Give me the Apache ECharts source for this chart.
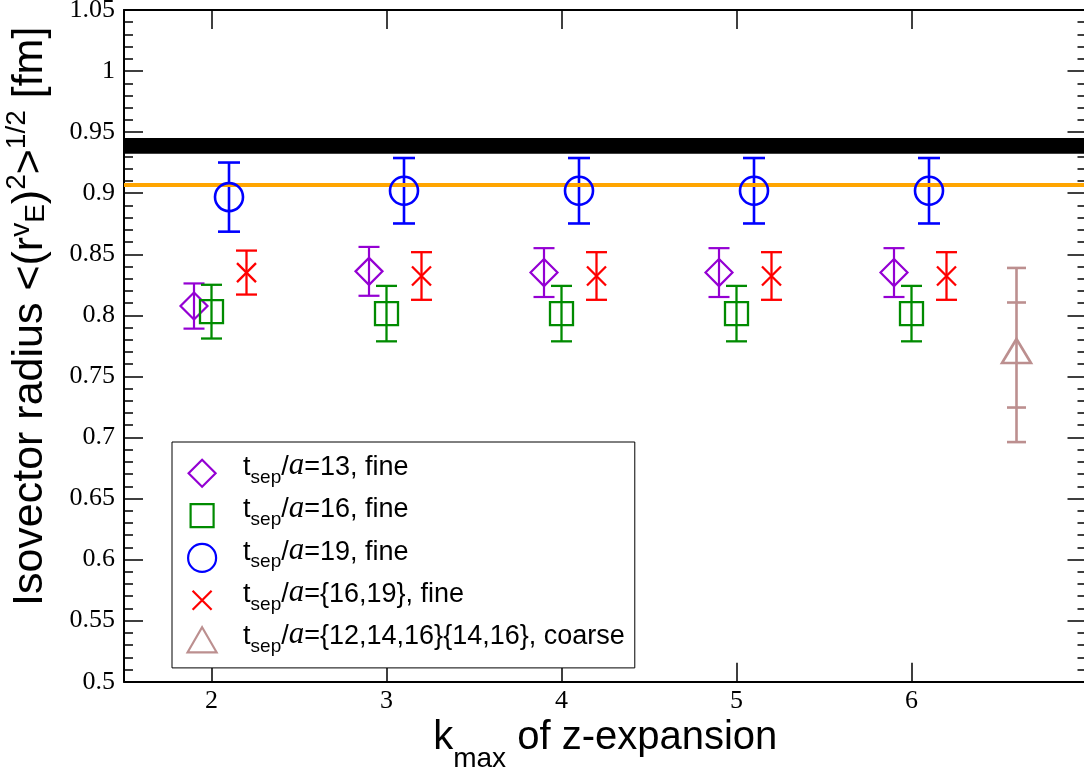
<!DOCTYPE html>
<html><head><meta charset="utf-8">
<script src="https://cdn.jsdelivr.net/npm/echarts@6/dist/echarts.min.js"></script>
<style>html,body{margin:0;padding:0;background:#fff}#c{width:1084px;height:775px}</style>
</head><body><div id="c"></div>
<script>
// ---- data ----
const xTicks = [2, 3, 4, 5, 6];
const xMin = 1.5, xMax = 7;
const yMin = 0.5, yMax = 1.05, yStep = 0.05;

const x13 = [1.9, 2.9, 3.9, 4.9, 5.9];
const y13 = [0.8076, 0.836, 0.835, 0.835, 0.835];
const e13 = [0.0185, 0.020, 0.020, 0.020, 0.020];

const x16 = [2.0, 3.0, 4.0, 5.0, 6.0];
const y16 = [0.803, 0.8014, 0.8014, 0.8014, 0.8014];
const e16 = [0.022, 0.0227, 0.0227, 0.0227, 0.0227];

const x19 = [2.1, 3.1, 4.1, 5.1, 6.1];
const y19 = [0.8968, 0.902, 0.902, 0.902, 0.902];
const e19 = [0.0283, 0.0268, 0.0268, 0.0268, 0.0268];

const x1619 = [2.2, 3.2, 4.2, 5.2, 6.2];
const y1619 = [0.835, 0.8322, 0.8322, 0.8322, 0.8322];
const e1619 = [0.018, 0.0195, 0.0195, 0.0195, 0.0195];

const xCoarse = [6.6];
const yCoarse = [0.7675];
const eCoarseTot = [0.0713];
const eCoarseStat = [0.043];

const bandLow = 0.9323, bandHigh = 0.9451;   // black band
const orangeLine = 0.9067;                   // orange line

const seriesNames = ['t13', 't16', 't19', 't1619', 'coarse'];
const legendTexts = {
  t13: 't{s|sep}/{i|a}=13, fine',
  t16: 't{s|sep}/{i|a}=16, fine',
  t19: 't{s|sep}/{i|a}=19, fine',
  t1619: 't{s|sep}/{i|a}={16,19}, fine',
  coarse: 't{s|sep}/{i|a}={12,14,16}{14,16}, coarse'
};

// ---- styles ----
const C = {
  purple: '#9400d3', green: '#008b00', blue: '#0000ff', red: '#ff0000', brown: '#bc8f8f'
};

function pairs(xs, ys) { return xs.map((x, i) => [x, ys[i]]); }
function triples(xs, ys, es) { return xs.map((x, i) => [x, ys[i], es[i]]); }

function errRender(color, cap, lw) {
  return function (params, api) {
    const x = api.value(0), y = api.value(1), e = api.value(2);
    const t = api.coord([x, y + e]), b = api.coord([x, y - e]);
    const st = { stroke: color, lineWidth: lw, fill: null };
    const ch = [
      { type: 'line', shape: { x1: t[0], y1: t[1], x2: b[0], y2: b[1] }, style: st },
      { type: 'line', shape: { x1: t[0] - cap, y1: t[1], x2: t[0] + cap, y2: t[1] }, style: st },
      { type: 'line', shape: { x1: b[0] - cap, y1: b[1], x2: b[0] + cap, y2: b[1] }, style: st }
    ];
    const e2 = api.value(3);
    if (typeof e2 === 'number' && e2 > 0) {
      const t2 = api.coord([x, y + e2]), b2 = api.coord([x, y - e2]);
      ch.push({ type: 'line', shape: { x1: t2[0] - cap, y1: t2[1], x2: t2[0] + cap, y2: t2[1] }, style: st });
      ch.push({ type: 'line', shape: { x1: b2[0] - cap, y1: b2[1], x2: b2[0] + cap, y2: b2[1] }, style: st });
    }
    return { type: 'group', children: ch };
  };
}

function scatter(name, data, symbol, size, color, bw, extra) {
  return Object.assign({
    name, type: 'scatter', data, symbol, symbolSize: size, z: 5,
    itemStyle: { color: 'rgba(0,0,0,0)', borderColor: color, borderWidth: bw, opacity: 1 },
    emphasis: { disabled: true }, silent: true
  }, extra || {});
}
function errSeries(name, data, color, cap, lw) {
  return {
    name, type: 'custom', data, renderItem: errRender(color, cap, lw), z: 4, silent: true
  };
}

// legend icons (bbox 65x40, shape centred at x=29, shifted down)
const icons = {
  t13: 'path://M0 0M65 40M29 12.2L42.5 25.7L29 39.2L15.5 25.7Z',
  t16: 'path://M0 0M65 40M17.5 14.2L40.5 14.2L40.5 37.2L17.5 37.2Z',
  t19: 'path://M0 0M65 40M15 25.7A14 14 0 1 0 43 25.7A14 14 0 1 0 15 25.7Z',
  t1619: 'path://M0 0M65 40M19.5 16.2L38.5 35.2M38.5 16.2L19.5 35.2',
  coarse: 'path://M0 0M65 40M29 10.5L43.5 35.5L14.5 35.5Z'
};
const iconColors = { t13: C.purple, t16: C.green, t19: C.blue, t1619: C.red, coarse: C.brown };

const sansFont = '"Liberation Sans", Arial, Helvetica, sans-serif';
const serifFont = '"Liberation Serif", "Times New Roman", serif';

const axisCommon = {
  type: 'value',
  axisLine: { show: true, onZero: false, lineStyle: { color: '#000', width: 2 } },
  splitLine: { show: false },
  axisTick: { show: true, inside: true, length: 19, lineStyle: { color: '#000', width: 1.5 } }
};

const option = {
  animation: false,
  backgroundColor: '#fff',
  grid: { left: 124, top: 10, width: 962.5, height: 671.7, outerBoundsMode: 'none', containLabel: false },
  xAxis: [
    Object.assign({}, axisCommon, {
      position: 'bottom', min: xMin, max: xMax, interval: 0.5,
      axisTick: { show: true, inside: true, length: 19, customValues: xTicks, lineStyle: { color: '#000', width: 1.5 } },
      axisLabel: { show: true, customValues: xTicks, color: '#000', fontFamily: serifFont, fontSize: 26, margin: 6 },
      name: 'k{s|max} of z-expansion',
      nameLocation: 'middle', nameGap: 20, nameMoveOverlap: false,
      nameTextStyle: {
        color: '#000', fontFamily: sansFont, fontSize: 40,
        rich: { s: { fontFamily: sansFont, fontSize: 28, color: '#000', padding: [44, 0, 0, 0] } }
      }
    }),
    Object.assign({}, axisCommon, {
      position: 'top', min: xMin, max: xMax, interval: 0.5,
      axisTick: { show: true, inside: true, length: 19, customValues: xTicks, lineStyle: { color: '#000', width: 1.5 } },
      axisLabel: { show: false }
    })
  ],
  yAxis: [
    Object.assign({}, axisCommon, {
      position: 'left', min: yMin, max: yMax, interval: yStep,
      minorTick: { show: true, splitNumber: 5, length: 9, lineStyle: { color: '#000', width: 1.5 } },
      axisLabel: {
        show: true, color: '#000', fontFamily: serifFont, fontSize: 26, margin: 9,
        padding: [6, 0, 0, 0], showMinLabel: true, showMaxLabel: true,
        formatter: v => String(parseFloat(v.toFixed(2)))
      },
      name: 'Isovector radius <(r{v|v}{e|E}){p|2}>{p|1/2} [fm]',
      nameLocation: 'middle', nameRotate: 90, nameGap: 66, nameMoveOverlap: false,
      nameTextStyle: {
        color: '#000', fontFamily: sansFont, fontSize: 43, padding: [0, 0, 0, 59],
        rich: {
          v: { fontFamily: sansFont, fontSize: 28, color: '#000', padding: [0, 0, 18, 0] },
          e: { fontFamily: sansFont, fontSize: 28, color: '#000', padding: [12, 0, 0, 0] },
          p: { fontFamily: sansFont, fontSize: 28, color: '#000', padding: [0, 0, 27, 0] }
        }
      }
    }),
    Object.assign({}, axisCommon, {
      position: 'right', min: yMin, max: yMax, interval: yStep,
      minorTick: { show: true, splitNumber: 5, length: 9, lineStyle: { color: '#000', width: 1.5 } },
      axisLabel: { show: false }
    })
  ],
  legend: {
    show: true, orient: 'vertical', left: 172, top: 442, selectedMode: false,
    backgroundColor: '#fff', borderColor: '#000', borderWidth: 1, borderRadius: 0,
    padding: [4.5, 10, 10, 0], itemWidth: 65, itemHeight: 40, itemGap: 0.1,
    formatter: name => legendTexts[name],
    textStyle: {
      color: '#000', fontFamily: sansFont, fontSize: 27,
      rich: {
        s: { fontFamily: sansFont, fontSize: 19, color: '#000', padding: [20, 0, 0, 0] },
        i: { fontFamily: serifFont, fontStyle: 'italic', fontSize: 31, color: '#000', padding: [0, 0, 3, 0] }
      }
    },
    data: seriesNames.map(n => ({
      name: n, icon: icons[n],
      itemStyle: { color: 'rgba(0,0,0,0)', borderColor: iconColors[n], borderWidth: 2.2, opacity: 1 }
    }))
  },
  series: [
    {
      name: 'refs', type: 'scatter', data: [], z: 1, silent: true,
      markArea: {
        silent: true, precision: 6, itemStyle: { color: '#000', opacity: 1 },
        data: [[{ yAxis: bandLow }, { yAxis: bandHigh }]]
      },
      markLine: {
        silent: true, precision: 6, symbol: ['none', 'none'], label: { show: false },
        lineStyle: { color: '#ffa500', width: 4, type: 'solid', opacity: 1 },
        data: [{ yAxis: orangeLine }]
      }
    },
    errSeries('e13', triples(x13, y13, e13), C.purple, 10.5, 2.2),
    errSeries('e16', triples(x16, y16, e16), C.green, 10.5, 2.3),
    errSeries('e19', triples(x19, y19, e19), C.blue, 11, 2.6),
    errSeries('e1619', triples(x1619, y1619, e1619), C.red, 10.5, 2.3),
    errSeries('ecoarse', xCoarse.map((x, i) => [x, yCoarse[i], eCoarseTot[i], eCoarseStat[i]]), C.brown, 9.5, 2.6),
    scatter('t13', pairs(x13, y13), 'diamond', 27, C.purple, 2.2),
    scatter('t16', pairs(x16, y16), 'rect', 23, C.green, 2.3),
    scatter('t19', pairs(x19, y19), 'circle', 28, C.blue, 2.6),
    scatter('t1619', pairs(x1619, y1619), 'path://M0 0L10 10M10 0L0 10', 19, C.red, 2.3),
    scatter('coarse', pairs(xCoarse, yCoarse), 'triangle', [29, 24], C.brown, 2.6, { symbolOffset: [0, -4] })
  ]
};

const chart = echarts.init(document.getElementById('c'), null, { renderer: 'canvas' });
chart.setOption(option);
</script>
</body></html>
